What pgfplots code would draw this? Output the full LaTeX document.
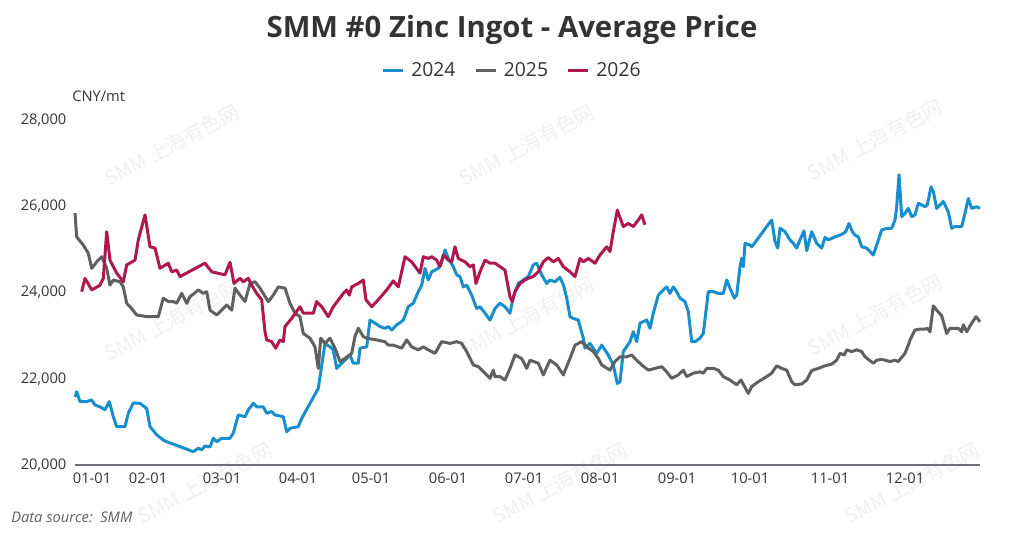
\documentclass[border=0pt]{standalone}
\usepackage{fontspec}
\setmainfont{Open Sans}
\newfontfamily\cjk{Noto Sans CJK SC}
\usepackage{pgfplots}
\pgfplotsset{compat=1.18}
\definecolor{c2024}{RGB}{24,142,204}
\definecolor{c2025}{RGB}{96,96,96}
\definecolor{c2026}{RGB}{174,24,78}
\definecolor{txt}{RGB}{51,51,51}
\definecolor{axgray}{RGB}{110,112,121}
\definecolor{wm}{RGB}{240,240,240}
\begin{document}
\begin{tikzpicture}[x=0.75pt,y=0.75pt]
\path[use as bounding box] (0,0) rectangle (1024,533);
% watermarks
\foreach \cx/\cy in {172/388,527/388,875/393,172/213,527/216,875/218,205/50,560/50,912/50}{
  \node[rotate=28,text=wm,font=\cjk\fontsize{15}{18}\selectfont] at (\cx,\cy) {SMM 上海有色网};
}
% title
\node[anchor=base,font=\bfseries\fontsize{22}{26}\selectfont,text=txt] at (512,495) {SMM \#0 Zinc Ingot - Average Price};
% unit
\node[anchor=west,font=\fontsize{11}{13}\selectfont,text=txt,inner sep=0pt] at (72,437) {CNY/mt};
% source
\node[anchor=west,font=\itshape\fontsize{11}{13}\selectfont,text=c2025,inner sep=0pt] at (11,16) {Data source:\ \ SMM};
\begin{axis}[
  at={(56.25pt,51pt)}, anchor=south west,
  scale only axis, width=678.75pt, height=258.75pt,
  xmin=75, xmax=980, ymin=20000, ymax=28000,
  axis lines=left, axis line style={-},
  y axis line style={draw=none},
  x axis line style={draw=axgray,line width=1pt},
  major tick length=0pt,
  scaled y ticks=false,
  ytick={20000,22000,24000,26000,28000},
  xtick={92,148,222,298,371,448,524,600,677,750,830,905},
  xticklabels={01-01,02-01,03-01,04-01,05-01,06-01,07-01,08-01,09-01,10-01,11-01,12-01},
  /pgf/number format/assume math mode=true,
  /pgf/number format/1000 sep={,},
  ticklabel style={font=\fontsize{11}{13}\selectfont,text=txt},
  yticklabel style={xshift=-3pt},
  xticklabel style={yshift=-2pt},
  clip=false,
  legend columns=3,
  legend style={at={(axis description cs:0.4834,1.1449)},anchor=center,draw=none,fill=none,
    font=\fontsize{14.5}{17}\selectfont,text=txt,
    /tikz/every odd column/.append style={column sep=3pt},
    /tikz/every even column/.append style={column sep=12pt}},
  legend image code/.code={\draw[#1,line width=2.25pt] (0pt,0pt) -- (15pt,0pt);},
  every axis plot/.append style={line width=2.25pt,line join=round},
]
\addplot[c2024] coordinates {(75,21580)(76.7,21700)(80,21470)(86.7,21470)(91.7,21510)(95,21390)(100,21350)(105,21280)(109.3,21470)(113.3,21120)(116.7,20890)(125,20890)(128.3,21200)(133.3,21440)(140,21430)(146.7,21310)(150,20890)(156.7,20700)(163.3,20580)(166.7,20540)(193.3,20310)(198.3,20390)(201.7,20350)(205,20440)(210,20420)(213.3,20620)(216.7,20540)(221.7,20620)(230,20620)(233.3,20740)(238.3,21160)(245,21120)(248.3,21280)(253.3,21430)(256.7,21350)(263.3,21350)(266.7,21200)(271.7,21240)(275,21160)(283.3,21120)(286.7,20770)(290,20850)(298.3,20890)(301.7,21080)(310,21430)(318.3,21780)(325,22820)(330,22740)(333.3,22670)(336.7,22240)(341.7,22360)(346.7,22470)(350,22550)(353.3,22360)(358.3,22360)(360,22710)(366.7,22740)(370,23360)(375,23290)(380,23210)(385,23170)(388.3,23210)(391.7,23130)(396.7,23250)(400,23300)(403.3,23360)(408.3,23670)(413.3,23750)(418.3,24020)(421.7,24170)(425,24560)(428.3,24290)(431.7,24480)(438.3,24560)(441.7,24710)(445,24990)(448.3,24790)(453.3,24600)(456.7,24410)(460,24370)(463.3,24130)(466.7,24170)(471.7,23940)(476.7,23630)(480,23670)(485,23520)(490,23360)(495,23630)(500,23750)(505,23670)(510,23520)(513.3,23900)(518.3,24210)(523.3,24290)(528.3,24370)(533.3,24640)(536.7,24680)(541.7,24410)(546.7,24210)(550,24290)(555,24250)(560,24350)(563.5,24170)(566.7,23870)(570,23440)(573.3,23400)(578.3,23360)(583.3,22940)(585,22710)(590,22820)(596.7,22590)(601.7,22780)(608.3,22550)(613.3,22320)(617.3,21890)(620,21930)(623.3,22630)(630,22860)(633.3,23090)(636.7,22860)(640,23290)(646.7,23360)(650,23170)(653.3,23520)(658.3,23940)(663.3,24060)(666.7,24130)(670,23980)(673.3,24130)(676.7,24020)(680,23870)(685,23790)(688.3,23560)(691.7,22860)(695,22860)(700,22940)(703.3,23050)(708.3,24020)(713.3,24020)(718.3,23980)(723.3,23980)(726.7,24290)(730,24100)(734.3,23870)(736.7,23940)(740,24600)(741.7,24790)(743.3,24600)(745,25140)(750,25100)(751.7,25060)(758.3,25260)(766.7,25530)(771.7,25680)(775,25180)(777.7,25030)(780,25490)(785,25410)(790,25220)(793.3,25140)(796.7,25030)(800,25220)(804,25430)(806.7,24970)(811.7,25410)(816.7,25140)(821.7,25030)(825,25280)(828.3,25220)(835,25290)(840,25330)(843.3,25370)(845.7,25410)(849,25600)(852.3,25410)(855,25330)(858.3,25290)(861.7,25060)(866.7,25030)(873.3,24870)(876.7,25100)(881.7,25450)(886.7,25490)(891.7,25490)(895,25680)(896.7,25990)(899,26730)(901.7,25760)(905,25840)(908.3,25950)(911.7,25760)(915,25800)(918.3,26070)(925,25990)(927.3,26030)(931,26450)(933.3,26340)(936.7,25950)(943.3,26110)(948.3,25870)(951.7,25490)(955,25530)(961.7,25530)(965,25840)(968.3,26180)(971.7,25950)(976.7,25990)(980,25950)};
\addlegendentry{2024}
\addplot[c2025] coordinates {(75,25840)(76.7,25290)(83.3,25100)(88.3,24910)(91.7,24560)(96.7,24710)(101.7,24830)(106.7,24560)(110,24170)(113.3,24290)(120,24250)(123.3,24130)(126.7,23750)(130,23670)(136.7,23480)(146.7,23440)(158.3,23440)(163.3,23870)(168.3,23790)(173.3,23790)(176.7,23750)(181.7,23980)(186.7,23750)(190,23900)(198.3,24060)(203.3,23980)(206.7,24020)(210,23590)(216.7,23480)(223.3,23630)(226.7,23710)(231.7,23590)(235,24100)(240,23940)(245,23790)(250,24210)(255,24250)(260,24100)(268.3,23790)(273.3,23940)(278.3,24130)(285,24100)(290,23750)(295,23520)(300,23440)(303.3,23050)(310,22940)(315,22740)(318.3,22240)(320.7,22940)(325,22820)(330,22940)(335,22710)(340,22400)(345,22470)(351.7,22590)(355,22980)(358.3,23170)(363.3,22980)(366.7,22940)(376.7,22900)(385,22860)(388.3,22780)(393.3,22780)(401.7,22710)(406.7,22900)(411.7,22740)(418.3,22670)(423.3,22740)(428.3,22670)(435,22590)(441.7,22860)(450,22820)(456.7,22860)(461.7,22820)(466.7,22630)(473.3,22320)(478.3,22280)(485,22130)(490,22010)(493.3,22200)(495,22050)(500,22050)(505,21970)(510,22240)(515,22550)(521.7,22470)(526.7,22240)(530,22430)(538.3,22360)(543.3,22090)(550,22430)(556.7,22320)(563.3,22090)(570,22470)(575,22780)(578.3,22820)(581.7,22860)(586.7,22740)(593.3,22630)(598.3,22470)(601.7,22320)(610,22200)(615,22400)(620,22510)(626.7,22510)(631.7,22550)(636.7,22430)(641.7,22320)(648.3,22200)(655,22240)(661.7,22280)(666.7,22160)(671.7,22010)(678.3,22090)(683.3,22200)(686.7,22050)(693.3,22130)(700,22160)(703.3,22130)(706.7,22240)(713.3,22240)(718.3,22200)(723.3,22050)(730,21970)(736.7,21860)(741,21970)(748.3,21660)(751.7,21820)(758.3,21930)(766.7,22050)(771.7,22130)(776.7,22300)(781.7,22240)(786.7,22200)(791.7,21930)(795,21860)(801.7,21880)(806.7,21970)(811.7,22190)(818.3,22240)(825,22300)(831.7,22340)(836.7,22430)(840,22590)(844.3,22550)(846.7,22670)(851.7,22630)(856.7,22670)(861.7,22630)(865,22510)(873.3,22360)(876.7,22430)(881.7,22450)(890,22400)(895,22430)(898.3,22400)(905,22590)(908.3,22780)(910,22900)(915,23130)(920,23150)(925,23150)(927.3,23170)(930,23090)(933.3,23690)(936.7,23590)(941.7,23460)(946.7,23050)(950,23170)(958.3,23170)(961.7,23090)(963.3,23250)(966.7,23090)(971.7,23290)(976,23440)(980,23320)};
\addlegendentry{2025}
\addplot[c2026] coordinates {(81.7,24020)(85,24330)(91.7,24060)(100,24170)(103.3,24330)(106.7,25410)(110,24750)(116.7,24450)(123.3,24250)(126.7,24640)(135,24750)(138.3,25220)(145,25800)(150,25060)(155,25030)(160,24560)(168.3,24680)(171.7,24480)(176.7,24520)(180,24370)(205,24680)(211.7,24480)(225,24410)(230,24700)(234,24210)(240,24330)(243.3,24250)(248.3,24330)(251.7,24170)(256.7,23980)(261.7,23830)(265,23090)(266.7,22900)(271.7,22860)(275.7,22710)(280,22900)(283.3,22860)(285,23210)(291.7,23400)(300,23670)(303.3,23520)(313.3,23520)(316.7,23790)(321.7,23670)(328.3,23440)(333.3,23670)(343.3,23980)(346.7,24060)(349.3,23940)(351.7,24130)(358.3,24210)(363.3,24290)(366,23830)(371.7,23670)(376.7,23790)(386.7,24060)(393.3,24270)(398.3,24130)(405,24830)(411.7,24710)(420,24450)(423.3,24830)(428.3,24790)(431.7,24830)(436.7,24750)(440,24600)(443.3,24870)(448.3,24750)(451.7,24710)(455,25060)(458.3,24790)(465,24710)(470,24600)(473.3,24640)(476,24210)(480,24480)(485,24750)(490,24680)(495,24680)(500,24600)(505,24520)(510,23900)(512.3,23790)(515,24020)(520,24210)(525,24290)(528.3,24330)(533.3,24370)(538.3,24480)(543.3,24710)(548.3,24810)(553.3,24710)(558.3,24790)(563.3,24600)(570,24480)(575,24370)(580,24790)(583.3,24710)(588.3,24790)(595,24680)(600,24870)(606.7,25060)(610,24950)(613.3,25410)(617.3,25910)(623.3,25530)(628.3,25600)(633.3,25530)(638.3,25680)(641.7,25800)(645,25570)};
\addlegendentry{2026}
\end{axis}
\end{tikzpicture}
\end{document}
